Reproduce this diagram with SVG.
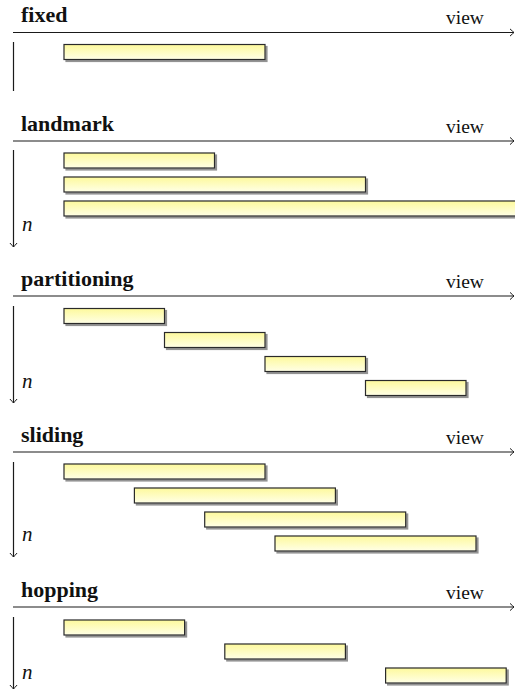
<svg xmlns="http://www.w3.org/2000/svg" width="515" height="692" viewBox="0 0 515 692">
  <defs>
    <linearGradient id="barFill" x1="0" y1="0" x2="0" y2="1">
      <stop offset="0" stop-color="#fdf99c"/>
      <stop offset="1" stop-color="#ffffe6"/>
    </linearGradient>
    <filter id="shadow" x="-5%" y="-30%" width="115%" height="180%">
      <feDropShadow dx="2" dy="2" stdDeviation="0.6" flood-color="#777" flood-opacity="0.8"/>
    </filter>
    <marker id="arrow" markerUnits="userSpaceOnUse" markerWidth="10" markerHeight="10" viewBox="-6 -5 7 10" refX="0" refY="0" orient="auto">
      <path d="M -4 -3.6 Q -1 -0.8 0 0 Q -1 0.8 -4 3.6" fill="none" stroke="#1a1a1a" stroke-width="1"/>
    </marker>
  </defs>
  <style>
    .title { font-family: "Liberation Serif", "DejaVu Serif", serif; font-weight: bold; font-size: 22px; fill: #111; }
    .view { font-family: "Liberation Serif", "DejaVu Serif", serif; font-size: 19.5px; fill: #111; }
    .n { font-family: "Liberation Serif", "DejaVu Serif", serif; font-style: italic; font-size: 21px; fill: #111; }
    .axis { stroke: #1a1a1a; stroke-width: 1.2; fill: none; }
    .bar { fill: url(#barFill); stroke: #2a2a2a; stroke-width: 1.2; filter: url(#shadow); }
  </style>

  <!-- section: fixed -->
  <g id="fixed">
    <text class="title" x="21" y="22">fixed</text>
    <text class="view" x="446" y="24">view</text>
    <g id="fixed-axes">
      <line class="axis" x1="13" y1="32.5" x2="514" y2="32.5" marker-end="url(#arrow)"/>
      <line class="axis" x1="13.5" y1="42" x2="13.5" y2="91"/>
    </g>
    <rect id="fixed-w1" class="bar" x="64" y="44.5" width="201" height="15"/>
  </g>

  <!-- section: landmark -->
  <g id="landmark">
    <text class="title" x="21" y="131">landmark</text>
    <text class="view" x="446" y="133">view</text>
    <g id="landmark-axes">
      <line class="axis" x1="13" y1="141" x2="514" y2="141" marker-end="url(#arrow)"/>
      <line class="axis" x1="13.5" y1="150" x2="13.5" y2="247" marker-end="url(#arrow)"/>
    </g>
    <text class="n" x="22" y="231">n</text>
    <rect id="landmark-w1" class="bar" x="64" y="153" width="150.5" height="15"/>
    <rect id="landmark-w2" class="bar" x="64" y="177" width="301.5" height="15"/>
    <rect id="landmark-w3" class="bar" x="64" y="201" width="455" height="15"/>
  </g>

  <!-- section: partitioning -->
  <g id="partitioning">
    <text class="title" x="21" y="286">partitioning</text>
    <text class="view" x="446" y="288">view</text>
    <g id="partitioning-axes">
      <line class="axis" x1="13" y1="296" x2="514" y2="296" marker-end="url(#arrow)"/>
      <line class="axis" x1="13.5" y1="306" x2="13.5" y2="403" marker-end="url(#arrow)"/>
    </g>
    <text class="n" x="22" y="388">n</text>
    <rect id="partitioning-w1" class="bar" x="64" y="308.5" width="100.5" height="15"/>
    <rect id="partitioning-w2" class="bar" x="164.5" y="332.5" width="100.5" height="15"/>
    <rect id="partitioning-w3" class="bar" x="265" y="356.5" width="100.5" height="15"/>
    <rect id="partitioning-w4" class="bar" x="365.5" y="380.5" width="100.5" height="15"/>
  </g>

  <!-- section: sliding -->
  <g id="sliding">
    <text class="title" x="21" y="442">sliding</text>
    <text class="view" x="446" y="444">view</text>
    <g id="sliding-axes">
      <line class="axis" x1="13" y1="452" x2="514" y2="452" marker-end="url(#arrow)"/>
      <line class="axis" x1="13.5" y1="462" x2="13.5" y2="557" marker-end="url(#arrow)"/>
    </g>
    <text class="n" x="22" y="541">n</text>
    <rect id="sliding-w1" class="bar" x="64" y="464" width="201" height="15"/>
    <rect id="sliding-w2" class="bar" x="134.4" y="488" width="201" height="15"/>
    <rect id="sliding-w3" class="bar" x="204.7" y="512" width="201" height="15"/>
    <rect id="sliding-w4" class="bar" x="275" y="536" width="201" height="15"/>
  </g>

  <!-- section: hopping -->
  <g id="hopping">
    <text class="title" x="21" y="597">hopping</text>
    <text class="view" x="446" y="599">view</text>
    <g id="hopping-axes">
      <line class="axis" x1="13" y1="607" x2="514" y2="607" marker-end="url(#arrow)"/>
      <line class="axis" x1="13.5" y1="617" x2="13.5" y2="689" marker-end="url(#arrow)"/>
    </g>
    <text class="n" x="22" y="679">n</text>
    <rect id="hopping-w1" class="bar" x="64" y="620" width="120.6" height="15"/>
    <rect id="hopping-w2" class="bar" x="224.8" y="644" width="120.6" height="15"/>
    <rect id="hopping-w3" class="bar" x="385.6" y="668" width="120.6" height="15"/>
  </g>
</svg>
